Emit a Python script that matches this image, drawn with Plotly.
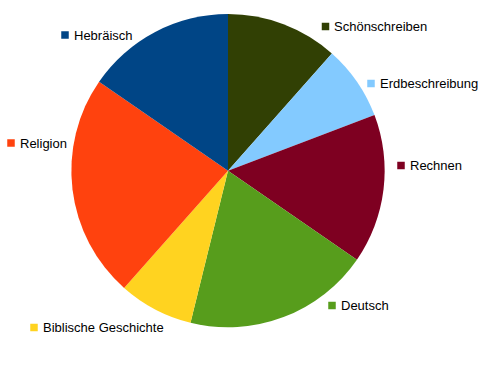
import plotly.graph_objects as go

# Data
subjects = ["Schönschreiben", "Erdbeschreibung", "Rechnen", "Deutsch",
            "Biblische Geschichte", "Religion", "Hebräisch"]
hours = [3, 2, 4, 5, 2, 6, 4]
colors = ["#314004", "#83CAFF", "#7E0021", "#579D1C", "#FFD320", "#FF420E", "#004586"]

# Layout: label positions (pixel centre of colour square) in the 494x383 canvas
W, H = 494, 383
label_pos = [(325.5, 26.5), (371, 83.5), (401, 165.5), (332, 305.5),
             (34, 327.5), (11, 143), (65, 35)]

fig = go.Figure(go.Pie(
    labels=subjects, values=hours, sort=False, direction="clockwise", rotation=0,
    marker=dict(colors=colors, line=dict(width=0)),
    textinfo="none", hoverinfo="label+value",
    domain=dict(x=[71 / W, 385 / W], y=[(H - 327.3) / H, (H - 14) / H]),
    showlegend=False,
))

sq = 7.5
for (px, py), name, col in zip(label_pos, subjects, colors):
    fig.add_shape(type="rect", xref="paper", yref="paper",
                  x0=(px - sq / 2) / W, x1=(px + sq / 2) / W,
                  y0=(H - py - sq / 2) / H, y1=(H - py + sq / 2) / H,
                  fillcolor=col, line=dict(width=0))
    fig.add_annotation(x=(px + sq / 2 + 3) / W, y=(H - py) / H, xref="paper", yref="paper",
                       text=name, showarrow=False, xanchor="left", yanchor="middle",
                       font=dict(family="Liberation Sans", size=13, color="#000000"))

fig.update_layout(width=W, height=H, margin=dict(l=0, r=0, t=0, b=0),
                  paper_bgcolor="white", plot_bgcolor="white")
fig.write_html("out.html")
